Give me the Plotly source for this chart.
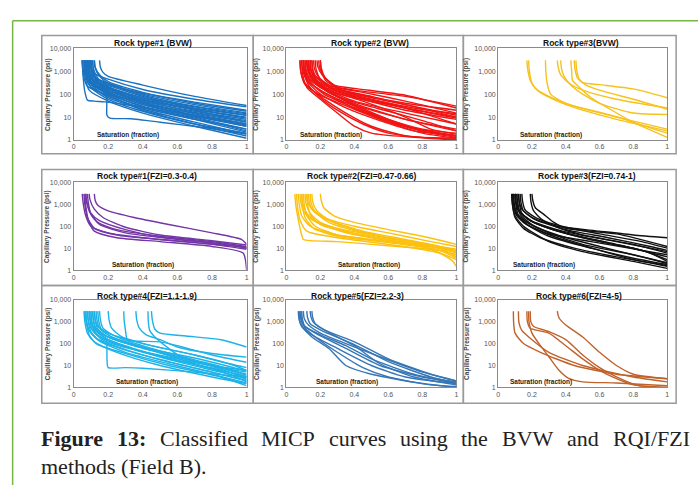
import plotly.graph_objects as go

# ---------------- data (Sw fraction, Pc psi) ----------------
TITLES = ["Rock type#1 (BVW)", "Rock type#2 (BVW)", "Rock type#3(BVW)",
          "Rock type#1(FZI=0.3-0.4)", "Rock type#2(FZI=0.47-0.66)", "Rock type#3(FZI=0.74-1)",
          "Rock type#4(FZI=1.1-1.9)", "Rock type#5(FZI=2.2-3)", "Rock type#6(FZI=4-5)"]
COLORS = ["#1a72c0", "#f01414", "#f7c21c", "#7236a6", "#fbc10e", "#111111", "#1db2e8", "#3676b6", "#c0622a"]
X_TICKS = [0, 0.2, 0.4, 0.6, 0.8, 1]
X_TICKTEXT = ["0", "0.2", "0.4", "0.6", "0.8", "1"]
Y_TICKS = [1, 10, 100, 1000, 10000]
Y_TICKTEXT = ["1", "10", "100", "1,000", "10,000"]
CAPTION_WORDS_1 = ["Figure", "13:", "Classified", "MICP", "curves", "using", "the", "BVW", "and", "RQI/FZI"]
CAPTION_BOLD_1 = [True, True, False, False, False, False, False, False, False, False]
CAPTION_LINE_2 = "methods (Field B)."

RT1_BVW = [
 [[0.05,3000],[0.055,1200],[0.08,400],[0.2,150],[0.4,50],[0.7,18],[1,8]],
 [[0.06,3000],[0.065,1100],[0.09,350],[0.2,120],[0.4,35],[0.7,12],[1,5]],
 [[0.07,3000],[0.075,1300],[0.1,450],[0.2,200],[0.4,60],[0.7,22],[1,10]],
 [[0.08,3000],[0.085,1500],[0.11,600],[0.2,300],[0.4,100],[0.7,35],[1,15]],
 [[0.09,3000],[0.095,1600],[0.12,800],[0.2,450],[0.4,160],[0.7,60],[1,28]],
 [[0.15,3000],[0.155,1500],[0.17,900],[0.2,600],[0.4,250],[0.7,80],[1,32]],
 [[0.1,3000],[0.105,1300],[0.13,500],[0.2,250],[0.4,80],[0.7,25],[1,12]],
 [[0.06,3000],[0.065,900],[0.09,250],[0.2,80],[0.4,25],[0.7,8],[1,3]],
 [[0.07,3000],[0.075,800],[0.1,200],[0.2,60],[0.4,18],[0.7,5],[1,2]],
 [[0.08,3000],[0.085,900],[0.11,280],[0.2,100],[0.4,30],[0.7,8],[1,2.2]],
 [[0.1,3000],[0.105,1100],[0.13,400],[0.2,150],[0.4,40],[0.7,10],[1,3]],
 [[0.05,3000],[0.055,800],[0.08,220],[0.2,90],[0.4,20],[0.7,5],[1,1.5]],
 [[0.09,3000],[0.095,1000],[0.12,380],[0.2,180],[0.4,45],[0.7,12],[1,4]],
 [[0.11,3000],[0.115,1300],[0.14,500],[0.2,220],[0.4,70],[0.7,22],[1,9]],
 [[0.12,3000],[0.125,1400],[0.15,600],[0.2,300],[0.4,90],[0.7,30],[1,14]],
 [[0.06,3000],[0.065,700],[0.09,150],[0.2,50],[0.4,15],[0.7,4],[1,1.2]],
 [[0.05,3000],[0.055,600],[0.065,130],[0.08,55],[0.12,50],[0.18,46],[0.3,35],[0.5,20],[0.75,9],[1,4]],
 [[0.1,3000],[0.105,900],[0.15,250],[0.19,110],[0.193,12],[0.21,9],[0.33,8.5],[0.5,6],[0.75,3.5],[1,1.8]],
 [[0.07,3000],[0.075,1000],[0.1,350],[0.2,140],[0.4,55],[0.7,20],[1,6]],
 [[0.08,3000],[0.085,1100],[0.11,380],[0.2,170],[0.4,70],[0.7,28],[1,12]],
 [[0.09,3000],[0.095,900],[0.12,300],[0.2,110],[0.4,28],[0.7,9],[1,2.5]],
 [[0.1,3000],[0.105,1200],[0.13,450],[0.2,200],[0.4,40],[0.7,15],[1,6]],
 [[0.12,3000],[0.125,1500],[0.15,700],[0.2,350],[0.4,120],[0.7,40],[1,18]],
 [[0.065,3000],[0.07,1000],[0.095,300],[0.2,100],[0.4,45],[0.7,14],[1,5]],
 [[0.085,3000],[0.09,1200],[0.115,450],[0.2,200],[0.4,55],[0.7,16],[1,7]],
 [[0.075,3000],[0.08,900],[0.105,250],[0.2,70],[0.4,22],[0.7,6],[1,1.8]],
 [[0.11,3000],[0.115,1000],[0.14,350],[0.2,130],[0.4,35],[0.7,11],[1,4.5]],
 [[0.095,3000],[0.1,1400],[0.125,550],[0.2,260],[0.4,110],[0.7,45],[1,20]],
]

RT2_BVW = [
 [[0.08,3000],[0.085,1000],[0.11,300],[0.2,80],[0.35,15],[0.5,4],[0.7,1.5],[1,1]],
 [[0.09,3000],[0.095,1200],[0.12,400],[0.2,150],[0.4,25],[0.7,4],[1,1.5]],
 [[0.1,3000],[0.105,1300],[0.13,500],[0.2,200],[0.4,40],[0.7,8],[1,3]],
 [[0.12,3000],[0.125,1400],[0.15,600],[0.22,250],[0.4,100],[0.7,35],[1,12]],
 [[0.13,3000],[0.135,1500],[0.16,700],[0.25,250],[0.4,150],[0.7,80],[1,30]],
 [[0.18,3000],[0.185,1600],[0.21,700],[0.28,250],[0.4,180],[0.7,90],[1,25]],
 [[0.19,3000],[0.195,1500],[0.22,600],[0.3,200],[0.45,120],[0.7,50],[1,15]],
 [[0.2,3000],[0.205,1400],[0.23,500],[0.3,180],[0.5,80],[0.7,35],[1,10]],
 [[0.14,3000],[0.145,1200],[0.17,450],[0.25,150],[0.4,50],[0.7,15],[1,5]],
 [[0.15,3000],[0.155,1100],[0.18,400],[0.25,120],[0.4,35],[0.6,8],[0.8,2.5],[1,1.5]],
 [[0.1,3000],[0.105,900],[0.13,250],[0.2,70],[0.3,20],[0.45,5],[0.6,2],[0.8,1.3],[1,1.1]],
 [[0.11,3000],[0.115,1000],[0.14,350],[0.22,100],[0.4,25],[0.6,6],[0.8,2],[1,1.2]],
 [[0.12,3000],[0.125,1100],[0.15,450],[0.22,180],[0.4,70],[0.7,25],[1,10]],
 [[0.13,3000],[0.135,1000],[0.16,400],[0.25,140],[0.45,20],[0.7,4],[1,1.5]],
 [[0.09,3000],[0.095,800],[0.12,200],[0.2,60],[0.3,15],[0.4,4],[0.5,2],[0.7,1.4],[1,1.2]],
 [[0.16,3000],[0.165,1300],[0.19,550],[0.27,200],[0.45,90],[0.7,40],[1,20]],
 [[0.17,3000],[0.175,1200],[0.2,450],[0.28,150],[0.45,60],[0.7,20],[1,8]],
 [[0.14,3000],[0.145,1100],[0.17,400],[0.24,130],[0.4,45],[0.6,18],[0.8,7],[1,2.5]],
 [[0.11,3000],[0.115,1200],[0.14,450],[0.22,160],[0.4,35],[0.7,8],[1,2.5]],
 [[0.1,3000],[0.105,1000],[0.13,320],[0.2,100],[0.35,25],[0.55,7],[0.75,2.5],[1,1.6]],
 [[0.12,3000],[0.125,1300],[0.15,500],[0.23,200],[0.4,80],[0.6,40],[0.8,15],[1,5]],
 [[0.15,3000],[0.155,1200],[0.18,500],[0.26,180],[0.45,70],[0.7,25],[1,9]],
 [[0.08,3000],[0.085,900],[0.11,260],[0.2,90],[0.4,22],[0.6,6],[0.85,2],[1,1.3]],
 [[0.13,3000],[0.135,1100],[0.16,420],[0.24,160],[0.45,50],[0.7,10],[0.85,3],[1,1.8]],
 [[0.2,3000],[0.205,1200],[0.23,400],[0.32,150],[0.5,60],[0.75,25],[1,14]],
 [[0.1,3000],[0.105,1100],[0.13,380],[0.21,130],[0.4,30],[0.6,8],[0.8,3],[1,2]],
]

RT3_BVW = [
 [[0.17,3000],[0.175,1200],[0.19,400],[0.22,180],[0.3,80],[0.45,30],[0.7,10],[1,3]],
 [[0.18,3000],[0.185,1000],[0.2,300],[0.24,130],[0.35,50],[0.5,20],[0.7,8],[1,2.5]],
 [[0.28,3000],[0.282,1000],[0.29,300],[0.31,100],[0.4,40],[0.55,20],[0.75,8],[1,1.3]],
 [[0.35,3000],[0.355,1500],[0.37,700],[0.42,300],[0.5,150],[0.7,60],[1,25]],
 [[0.37,3000],[0.375,1300],[0.39,600],[0.43,250],[0.5,100],[0.6,40],[0.8,15],[1,13]],
 [[0.45,3000],[0.455,1200],[0.47,500],[0.5,320],[0.6,260],[0.8,170],[1,70]],
 [[0.46,3000],[0.465,1100],[0.48,450],[0.52,250],[0.6,150],[0.8,60],[1,22]],
 [[0.43,3000],[0.435,1000],[0.44,400],[0.48,200],[0.55,70],[0.65,25],[0.8,6],[1,2]],
]

RT1_FZI = [
 [[0.12,3000],[0.125,1500],[0.14,900],[0.2,500],[0.35,250],[0.55,120],[0.8,50],[0.97,25],[1,15]],
 [[0.05,3000],[0.055,1200],[0.07,300],[0.1,100],[0.2,50],[0.4,30],[0.7,18],[0.95,12],[1,10]],
 [[0.06,3000],[0.065,1000],[0.08,250],[0.12,80],[0.25,40],[0.5,25],[0.8,15],[1,9]],
 [[0.07,3000],[0.075,1500],[0.09,500],[0.14,150],[0.25,70],[0.5,35],[0.8,20],[1,12]],
 [[0.07,3000],[0.075,1300],[0.1,400],[0.15,180],[0.3,70],[0.5,32],[0.8,18],[1,11]],
 [[0.08,3000],[0.085,1200],[0.1,350],[0.15,120],[0.3,50],[0.6,25],[0.9,14],[1,10]],
 [[0.09,3000],[0.095,1600],[0.12,600],[0.17,250],[0.3,90],[0.5,40],[0.8,22],[1,14]],
 [[0.065,3000],[0.07,900],[0.085,200],[0.12,60],[0.25,30],[0.5,20],[0.8,12],[0.98,6],[1,1]],
]

RT2_FZI = [
 [[0.05,3000],[0.055,1000],[0.07,200],[0.09,40],[0.1,25],[0.3,20],[0.6,13],[0.9,8],[1,5]],
 [[0.07,3000],[0.075,1100],[0.09,300],[0.14,100],[0.3,40],[0.6,20],[0.9,10],[1,7]],
 [[0.08,3000],[0.085,1300],[0.1,500],[0.15,200],[0.3,80],[0.6,30],[0.9,12],[1,9]],
 [[0.09,3000],[0.095,1200],[0.12,400],[0.18,150],[0.35,50],[0.6,22],[0.9,10],[1,6]],
 [[0.12,3000],[0.125,1300],[0.15,600],[0.22,250],[0.4,100],[0.6,50],[0.85,20],[1,12]],
 [[0.13,3000],[0.135,1200],[0.16,500],[0.24,200],[0.4,70],[0.6,30],[0.85,14],[1,8]],
 [[0.2,3000],[0.205,1500],[0.22,700],[0.28,300],[0.4,150],[0.6,70],[0.8,35],[1,15]],
 [[0.1,3000],[0.105,1000],[0.12,300],[0.17,100],[0.3,40],[0.5,25],[0.8,12],[1,3]],
 [[0.11,3000],[0.115,1100],[0.14,400],[0.2,150],[0.35,60],[0.6,25],[0.85,10],[1,5]],
 [[0.14,3000],[0.145,1200],[0.17,450],[0.25,150],[0.45,50],[0.7,20],[0.9,10],[1,4]],
 [[0.06,3000],[0.065,800],[0.08,200],[0.12,60],[0.3,30],[0.6,15],[0.9,6],[0.98,2.5],[1,1.5]],
 [[0.15,3000],[0.155,1300],[0.18,500],[0.26,180],[0.45,60],[0.7,25],[0.9,12],[1,7]],
 [[0.09,3000],[0.095,900],[0.11,250],[0.16,80],[0.3,35],[0.6,18],[0.9,8],[1,3.5]],
 [[0.12,3000],[0.125,1000],[0.14,350],[0.2,120],[0.4,45],[0.7,18],[0.95,9],[1,6]],
]

RT3_FZI = [
 [[0.08,3000],[0.085,1000],[0.1,300],[0.15,100],[0.3,20],[0.5,7],[0.8,2.5],[1,1.2]],
 [[0.09,3000],[0.095,1100],[0.11,400],[0.17,150],[0.3,50],[0.5,15],[0.8,5],[1,2]],
 [[0.1,3000],[0.105,1200],[0.12,500],[0.18,200],[0.3,80],[0.5,30],[0.8,10],[1,4]],
 [[0.12,3000],[0.125,1300],[0.14,600],[0.2,250],[0.35,100],[0.6,60],[0.8,40],[1,30]],
 [[0.2,3000],[0.205,1500],[0.22,700],[0.27,350],[0.33,150],[0.4,80],[0.7,45],[1,12]],
 [[0.19,3000],[0.195,1200],[0.21,500],[0.26,200],[0.35,90],[0.5,40],[0.8,15],[1,6]],
 [[0.08,3000],[0.085,900],[0.1,250],[0.15,80],[0.25,30],[0.45,10],[0.7,4],[1,1.6]],
 [[0.11,3000],[0.115,1000],[0.13,350],[0.2,120],[0.35,40],[0.6,12],[0.85,4],[1,2.2]],
 [[0.1,3000],[0.105,1300],[0.125,500],[0.19,180],[0.35,60],[0.6,20],[0.85,8],[1,3]],
 [[0.13,3000],[0.135,1200],[0.15,500],[0.22,200],[0.4,70],[0.65,30],[0.9,12],[1,8]],
 [[0.09,3000],[0.095,1000],[0.11,350],[0.17,120],[0.3,35],[0.55,10],[0.8,3.5],[1,1.8]],
 [[0.12,3000],[0.125,1100],[0.14,400],[0.21,150],[0.4,50],[0.7,15],[0.9,6],[1,2.5]],
 [[0.085,3000],[0.09,1100],[0.105,350],[0.16,130],[0.3,45],[0.55,20],[0.85,8],[1,5]],
 [[0.1,3000],[0.105,1000],[0.12,300],[0.18,110],[0.35,30],[0.6,8],[0.8,3],[1,1.5]],
 [[0.11,3000],[0.115,1200],[0.13,450],[0.2,170],[0.38,60],[0.6,28],[0.85,12],[1,7]],
 [[0.14,3000],[0.145,1300],[0.16,550],[0.23,230],[0.4,90],[0.6,45],[0.85,20],[1,10]],
]

RT4_FZI = [
 [[0.06,3000],[0.065,1000],[0.08,300],[0.12,120],[0.25,40],[0.5,10],[0.8,3],[1,1.5]],
 [[0.07,3000],[0.075,1100],[0.09,400],[0.14,150],[0.3,50],[0.55,15],[0.8,5],[1,2]],
 [[0.08,3000],[0.085,1200],[0.1,500],[0.15,200],[0.3,70],[0.55,20],[0.85,6],[1,3]],
 [[0.09,3000],[0.095,1300],[0.11,600],[0.17,250],[0.35,80],[0.6,25],[0.85,8],[1,4]],
 [[0.1,3000],[0.105,1100],[0.12,450],[0.18,180],[0.35,55],[0.6,15],[0.85,5],[1,2.5]],
 [[0.11,3000],[0.115,1200],[0.13,500],[0.2,200],[0.4,60],[0.7,15],[0.9,5],[1,2.2]],
 [[0.12,3000],[0.125,1300],[0.14,600],[0.2,300],[0.4,100],[0.7,30],[0.9,12],[1,6]],
 [[0.13,3000],[0.135,1200],[0.15,500],[0.22,200],[0.4,70],[0.65,20],[0.9,6],[1,3]],
 [[0.14,3000],[0.145,1100],[0.16,450],[0.23,180],[0.45,50],[0.7,12],[0.9,4],[1,1.8]],
 [[0.15,3000],[0.155,1200],[0.17,500],[0.25,200],[0.45,60],[0.7,18],[0.9,7],[1,3.5]],
 [[0.1,3000],[0.105,800],[0.13,300],[0.18,160],[0.19,150],[0.193,20],[0.2,8],[0.3,8],[0.4,7.5],[0.7,5],[1,3]],
 [[0.2,3000],[0.205,1200],[0.22,500],[0.28,200],[0.45,80],[0.7,30],[0.9,12],[1,8]],
 [[0.29,3000],[0.292,1200],[0.3,400],[0.31,150],[0.35,130],[0.5,120],[0.6,80],[0.8,30],[1,14]],
 [[0.36,3000],[0.365,1200],[0.38,500],[0.42,250],[0.5,150],[0.6,70],[0.8,35],[1,24]],
 [[0.43,3000],[0.432,1000],[0.44,400],[0.47,200],[0.55,60],[0.62,25],[0.8,10],[1,6]],
 [[0.45,3000],[0.455,1200],[0.47,450],[0.5,300],[0.65,220],[0.85,150],[1,70]],
 [[0.07,3000],[0.075,900],[0.09,250],[0.13,100],[0.3,35],[0.55,10],[0.85,3],[1,1.2]],
 [[0.08,3000],[0.085,1000],[0.1,350],[0.15,130],[0.3,40],[0.55,12],[0.8,4],[1,1.6]],
 [[0.09,3000],[0.095,1100],[0.11,400],[0.16,160],[0.32,60],[0.6,20],[0.85,8],[1,5]],
 [[0.11,3000],[0.115,1000],[0.13,400],[0.19,170],[0.38,50],[0.65,14],[0.9,5],[1,2.8]],
 [[0.12,3000],[0.125,1100],[0.14,450],[0.21,180],[0.4,65],[0.7,22],[0.9,9],[1,5.5]],
 [[0.065,3000],[0.07,1200],[0.085,450],[0.13,180],[0.28,60],[0.5,18],[0.8,5],[1,2]],
]

RT5_FZI = [
 [[0.07,3000],[0.075,1200],[0.09,600],[0.15,250],[0.3,60],[0.5,10],[0.7,3],[1,1.5]],
 [[0.08,3000],[0.085,1300],[0.1,700],[0.17,300],[0.35,60],[0.55,10],[0.8,3],[1,1.8]],
 [[0.09,3000],[0.095,1200],[0.11,600],[0.2,250],[0.35,80],[0.5,20],[0.75,4],[1,1.5]],
 [[0.1,3000],[0.105,1400],[0.13,700],[0.2,300],[0.35,100],[0.55,25],[0.8,5],[1,2]],
 [[0.12,3000],[0.125,1500],[0.14,800],[0.22,350],[0.4,90],[0.6,15],[0.85,3],[1,1.6]],
 [[0.14,3000],[0.145,1600],[0.16,900],[0.23,400],[0.4,120],[0.6,20],[0.85,4],[1,2]],
 [[0.15,3000],[0.155,1500],[0.17,800],[0.24,350],[0.4,80],[0.55,12],[0.75,3],[1,1.3]],
 [[0.075,3000],[0.08,1100],[0.1,500],[0.15,200],[0.25,60],[0.35,10],[0.5,4],[0.8,1.5],[1,1]],
 [[0.085,3000],[0.09,1200],[0.11,500],[0.17,200],[0.3,40],[0.45,8],[0.6,3],[0.85,1.3],[1,1.1]],
]

RT6_FZI = [
 [[0.09,3000],[0.092,800],[0.1,300],[0.15,100],[0.25,40],[0.45,10],[0.7,4],[1,2.5]],
 [[0.12,3000],[0.123,900],[0.14,400],[0.2,150],[0.3,40],[0.5,10],[0.8,3],[1,1.8]],
 [[0.17,3000],[0.173,1000],[0.19,500],[0.3,300],[0.4,80],[0.5,20],[0.6,6],[0.7,2.5],[0.8,1.3],[1,1]],
 [[0.18,3000],[0.183,900],[0.2,300],[0.25,80],[0.3,25],[0.36,6],[0.42,2.5],[0.5,1.8],[0.7,1.6],[1,1.2]],
 [[0.35,3000],[0.36,1500],[0.4,700],[0.5,200],[0.6,40],[0.7,10],[0.8,4],[1,2.5]],
 [[0.19,3000],[0.193,1000],[0.21,600],[0.3,350],[0.4,150],[0.5,30],[0.6,8],[0.7,3],[0.83,1.2],[1,1]],
]

PANELS = [RT1_BVW, RT2_BVW, RT3_BVW, RT1_FZI, RT2_FZI, RT3_FZI, RT4_FZI, RT5_FZI, RT6_FZI]

# ---------------- layout geometry (pixels) ----------------
W, H = 700, 488
COL_PX = [(72, 246), (286, 457), (499, 669)]
ROW_PX = [(45, 138), (181, 270), (300, 389)]
TITLE_X = [[152, 370, 582], [146, 362, 588], [146, 358, 580]]
TITLE_Y = [40, 174, 296]
SAT_X = [[127, 331, 552], [142, 369, 545], [146, 347, 542]]
YT_OFF = [26, 30, 32]
BOX_X = [40, 252.7, 464, 678]
BOX_Y = [(32, 152), (168, 285.7), (285.7, 405)]

def px(x):
    return x / W

def py(y):
    return 1 - y / H

SANS = "Liberation Sans, Arial, sans-serif"
fig = go.Figure()
annotations = []
shapes = []
layout = {}

for i, curves in enumerate(PANELS):
    r, c = divmod(i, 3)
    n = i + 1
    xa = "x" if n == 1 else f"x{n}"
    ya = "y" if n == 1 else f"y{n}"
    for cv in curves:
        fig.add_trace(go.Scatter(
            x=[p[0] for p in cv], y=[p[1] for p in cv], mode="lines",
            line=dict(color=COLORS[i], width=1.4, shape="spline", smoothing=0.6),
            xaxis=xa, yaxis=ya, showlegend=False, hoverinfo="skip"))
    x0, x1 = COL_PX[c]
    y0, y1 = ROW_PX[r]
    layout[f"xaxis{n}"] = dict(domain=[px(x0), px(x1)], range=[0, 1], anchor=ya,
                               tickvals=X_TICKS, ticktext=X_TICKTEXT, showline=True, mirror=True,
                               linecolor="#8a8a8a", linewidth=1, showgrid=False, zeroline=False,
                               ticks="", tickfont=dict(size=7, color="#555", family=SANS))
    layout[f"yaxis{n}"] = dict(domain=[py(y1), py(y0)], type="log", range=[0, 4], anchor=xa,
                               tickvals=Y_TICKS, ticktext=Y_TICKTEXT, showline=True, mirror=True,
                               linecolor="#8a8a8a", linewidth=1, showgrid=False, zeroline=False,
                               ticks="", tickfont=dict(size=7, color="#555", family=SANS))
    annotations.append(dict(text=f"<b>{TITLES[i]}</b>", x=px(TITLE_X[r][c]), y=py(TITLE_Y[r]),
                            xref="paper", yref="paper", showarrow=False, xanchor="center",
                            yanchor="middle", font=dict(size=8.5, color="#111", family=SANS)))
    annotations.append(dict(text="<b>Capillary Pressure (psi)</b>", textangle=-90,
                            x=px(x0 - YT_OFF[c]), y=py((y0 + y1) / 2), xref="paper", yref="paper",
                            showarrow=False, xanchor="center", yanchor="middle",
                            font=dict(size=6.5, color="#444", family=SANS)))
    annotations.append(dict(text="<b>Saturation (fraction)</b>", x=px(SAT_X[r][c]), y=py(y1 - 5),
                            xref="paper", yref="paper", showarrow=False, xanchor="center",
                            yanchor="middle", font=dict(size=6.5, color="#222", family=SANS)))

# outer panel boxes
for (b0, b1) in BOX_Y:
    for c in range(3):
        shapes.append(dict(type="rect", xref="paper", yref="paper",
                           x0=px(BOX_X[c]), x1=px(BOX_X[c + 1]), y0=py(b1), y1=py(b0),
                           line=dict(color="#9a9a9a", width=1.5)))

# green frame
shapes.append(dict(type="line", xref="paper", yref="paper", x0=px(10.7), x1=px(10.7),
                   y0=0, y1=py(17), line=dict(color="#78b646", width=1.5)))
shapes.append(dict(type="line", xref="paper", yref="paper", x0=px(10.7), x1=1,
                   y0=py(17), y1=py(17), line=dict(color="#78b646", width=1.5)))

# caption (justified first line: words laid out with Times metrics)
SERIF = "Liberation Serif, Times New Roman, serif"
CAP_SIZE = 22
ROMAN_W = {"C": 667, "l": 278, "a": 444, "s": 389, "i": 278, "f": 333, "e": 444, "d": 500,
           "M": 889, "I": 333, "P": 556, "c": 444, "u": 500, "r": 333, "v": 500, "n": 500,
           "g": 500, "t": 278, "h": 500, "B": 667, "V": 722, "W": 944, "R": 667, "Q": 722,
           "/": 278, "F": 556, "Z": 611}
BOLD_W = {"F": 611, "i": 278, "g": 500, "u": 556, "r": 444, "e": 444, "1": 500, "3": 500, ":": 333}

def word_w(word, bold):
    table = BOLD_W if bold else ROMAN_W
    return sum(table.get(ch, 500) for ch in word) * CAP_SIZE / 1000

LINE_L, LINE_R = 37, 689
widths = [word_w(w, b) for w, b in zip(CAPTION_WORDS_1, CAPTION_BOLD_1)]
gap = (LINE_R - LINE_L - sum(widths)) / (len(widths) - 1)
xpos = LINE_L
for w, b, ww in zip(CAPTION_WORDS_1, CAPTION_BOLD_1, widths):
    annotations.append(dict(text=f"<b>{w}</b>" if b else w, x=px(xpos), y=py(441),
                            xref="paper", yref="paper", showarrow=False, xanchor="left",
                            yanchor="middle", font=dict(size=CAP_SIZE, color="#222", family=SERIF)))
    xpos += ww + gap
annotations.append(dict(text=CAPTION_LINE_2, x=px(LINE_L), y=py(469), xref="paper", yref="paper",
                        showarrow=False, xanchor="left", yanchor="middle",
                        font=dict(size=CAP_SIZE, color="#222", family=SERIF)))

fig.update_layout(width=W, height=H, margin=dict(l=0, r=0, t=0, b=0),
                  paper_bgcolor="white", plot_bgcolor="white",
                  annotations=annotations, shapes=shapes, **layout)
fig.write_html("out.html")
